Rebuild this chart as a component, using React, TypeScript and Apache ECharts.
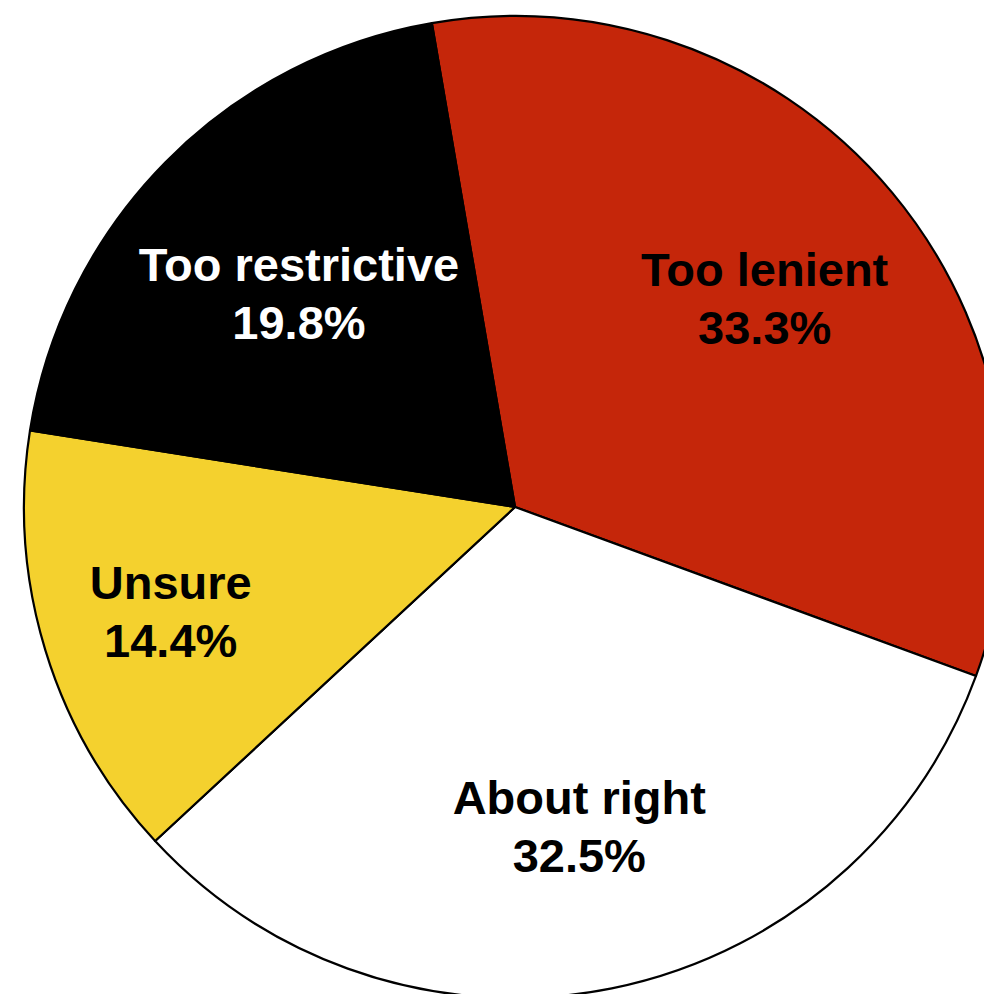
import React, { useEffect, useRef } from "react";
import * as echarts from "echarts";

const categories = ["Too lenient", "About right", "Unsure", "Too restrictive"];
const values = [33.3, 32.5, 14.4, 19.8];
const colors = ["#C5260A", "#FFFFFF", "#F4D12E", "#000000"];
const labelColors = ["#000000", "#000000", "#000000", "#FFFFFF"];
const labelRadiusFactor = [0.662, 0.664, 0.733, 0.618];

const CX = 515;
const CY = 507;
const R = 491;
const START = 99.75;

export default function App() {
  const ref = useRef<HTMLDivElement>(null);
  useEffect(() => {
    if (!ref.current) return;
    const chart = echarts.init(ref.current, undefined, { renderer: "svg" });
    const total = values.reduce((a, b) => a + b, 0);
    const mids: number[] = [];
    let acc = START;
    values.forEach((v) => {
      const span = (v / total) * 360;
      mids.push(acc - span / 2);
      acc -= span;
    });
    chart.setOption({
      animation: false,
      backgroundColor: "#FFFFFF",
      series: [
        {
          type: "pie",
          center: [CX, CY],
          radius: [0, R],
          startAngle: START,
          clockwise: true,
          avoidLabelOverlap: false,
          emphasis: { disabled: true },
          itemStyle: { borderColor: "#000000", borderWidth: 2.2 },
          label: {
            show: true,
            position: "inside",
            formatter: (p: any) => `${p.name}\n${values[p.dataIndex].toFixed(1)}%`,
            fontFamily: "'Liberation Sans', Arial, Helvetica, sans-serif",
            fontWeight: "bold",
            fontSize: 47,
            lineHeight: 58,
            align: "center",
            verticalAlign: "middle",
          },
          labelLine: { show: false },
          labelLayout: (p: any) => {
            const i = p.dataIndex;
            const a = (mids[i] * Math.PI) / 180;
            const r = R * labelRadiusFactor[i];
            return {
              x: CX + r * Math.cos(a),
              y: CY - r * Math.sin(a),
              align: "center",
              verticalAlign: "middle",
            };
          },
          data: categories.map((c, i) => ({
            name: c,
            value: values[i],
            itemStyle: { color: colors[i] },
            label: { color: labelColors[i] },
          })),
        },
      ],
    });
    return () => chart.dispose();
  }, []);
  return (
    <div
      ref={ref}
      style={{ position: "fixed", left: 0, top: 0, width: 984, height: 994 }}
    />
  );
}
